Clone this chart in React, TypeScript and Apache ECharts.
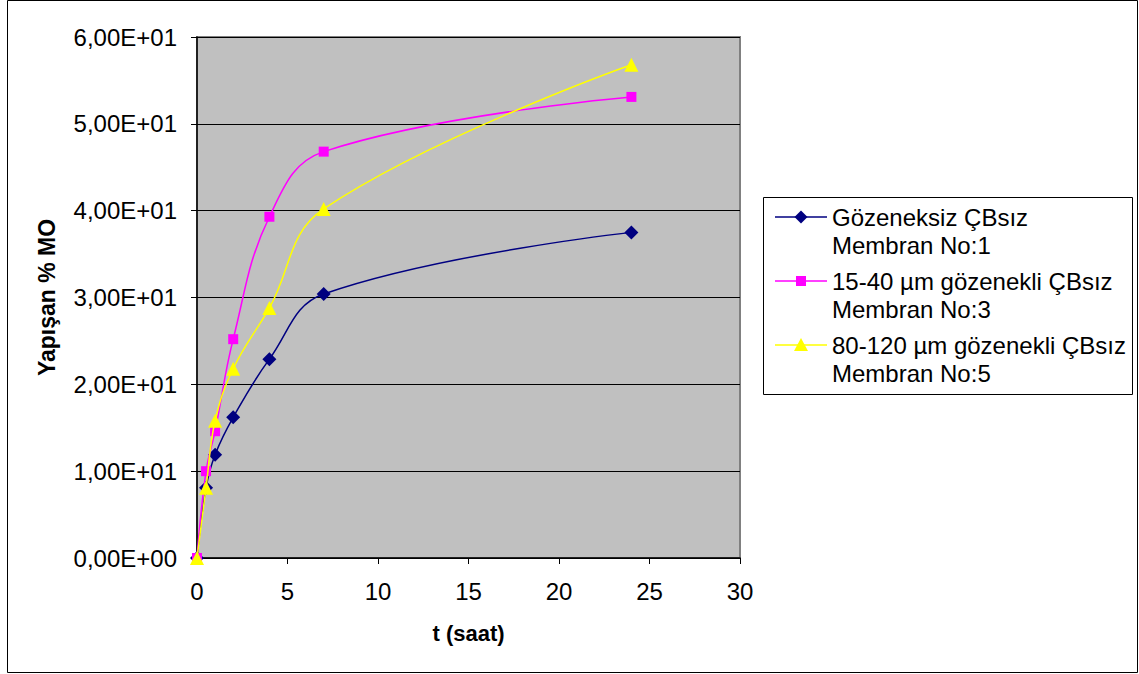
import React, { useEffect, useRef } from "react";
import * as echarts from "echarts";

// Elapsed time in hours
const hours = [0, 0.5, 1, 2, 4, 7, 24];

// Adhered MO (%) per membrane
const membrane1 = [0, 8.1, 11.9, 16.2, 22.9, 30.4, 37.5];
const membrane3 = [0, 10.0, 14.6, 25.2, 39.3, 46.8, 53.1];
const membrane5 = [0, 8.1, 15.8, 21.8, 28.8, 40.2, 56.8];

const seriesNames = [
  ["Gözeneksiz ÇBsız", "Membran No:1"],
  ["15-40 µm gözenekli ÇBsız", "Membran No:3"],
  ["80-120 µm gözenekli ÇBsız", "Membran No:5"],
];
const seriesColors = ["#000080", "#FF00FF", "#FFFF00"];
const seriesSymbols = ["diamond", "rect", "triangle"];
const seriesSymbolSizes = [14, 10, 14];

const xTitle = "t (saat)";
const yTitle = "Yapışan % MO";

const FONT = "'Liberation Sans', Arial, sans-serif";

// Excel-style scientific label with comma decimal: 1,00E+01
function sci(v: number): string {
  if (v === 0) return "0,00E+00";
  const exp = Math.floor(Math.log10(Math.abs(v)));
  const mant = v / Math.pow(10, exp);
  const sign = exp < 0 ? "-" : "+";
  const e = String(Math.abs(exp)).padStart(2, "0");
  return mant.toFixed(2).replace(".", ",") + "E" + sign + e;
}

function legendGraphic() {
  const boxX = 763;
  const boxY = 197;
  const rowY = [217, 281, 345];
  const lineStep = 28;
  const items: any[] = [
    {
      type: "rect",
      shape: { x: boxX + 0.5, y: boxY + 0.5, width: 369, height: 197 },
      style: { fill: "#ffffff", stroke: "#000000", lineWidth: 1 },
    },
  ];
  rowY.forEach((cy, i) => {
    const color = seriesColors[i];
    const cx = 801;
    items.push({
      type: "line",
      shape: { x1: 775, y1: cy, x2: 827, y2: cy },
      style: { stroke: color, lineWidth: 1.5 },
    });
    if (i === 0) {
      items.push({
        type: "polygon",
        shape: { points: [[cx, cy - 6.5], [cx + 6.5, cy], [cx, cy + 6.5], [cx - 6.5, cy]] },
        style: { fill: color },
      });
    } else if (i === 1) {
      items.push({
        type: "rect",
        shape: { x: cx - 5, y: cy - 5, width: 10, height: 10 },
        style: { fill: color },
      });
    } else {
      items.push({
        type: "polygon",
        shape: { points: [[cx, cy - 7], [cx + 7, cy + 6], [cx - 7, cy + 6]] },
        style: { fill: color },
      });
    }
    seriesNames[i].forEach((line, j) => {
      items.push({
        type: "text",
        x: 832,
        y: cy + j * lineStep,
        style: {
          text: line,
          font: `24px ${FONT}`,
          fill: "#000000",
          textVerticalAlign: "middle",
          textAlign: "left",
        },
      });
    });
  });
  return items;
}

export default function App() {
  const ref = useRef<HTMLDivElement>(null);

  useEffect(() => {
    document.body.style.margin = "0";
    if (!ref.current) return;
    const chart = echarts.init(ref.current, undefined, { renderer: "svg" });
    const dataSets = [membrane1, membrane3, membrane5];

    chart.setOption({
      animation: false,
      backgroundColor: "#ffffff",
      grid: {
        left: 197,
        right: 399,
        top: 37,
        bottom: 116,
        show: true,
        backgroundColor: "#C0C0C0",
        borderColor: "#808080",
        borderWidth: 2,
      },
      xAxis: {
        type: "value",
        min: 0,
        max: 30,
        interval: 5,
        name: xTitle,
        nameLocation: "middle",
        nameGap: 64,
        nameTextStyle: { fontFamily: FONT, fontSize: 22, fontWeight: "bold", color: "#000" },
        axisLine: { show: true, onZero: false, lineStyle: { color: "#000", width: 1.5 } },
        axisTick: { show: true, inside: false, length: 6, lineStyle: { color: "#000" } },
        axisLabel: { margin: 21, fontFamily: FONT, fontSize: 24, color: "#000" },
        splitLine: { show: false },
      },
      yAxis: {
        type: "value",
        min: 0,
        max: 60,
        interval: 10,
        name: yTitle,
        nameLocation: "middle",
        nameGap: 139,
        nameTextStyle: { fontFamily: FONT, fontSize: 23, fontWeight: "bold", color: "#000" },
        axisLine: { show: true, onZero: false, lineStyle: { color: "#000", width: 1.5 } },
        axisTick: { show: true, inside: false, length: 6, lineStyle: { color: "#000" } },
        axisLabel: {
          margin: 20,
          fontFamily: FONT,
          fontSize: 24,
          color: "#000",
          formatter: (v: number) => sci(v),
        },
        splitLine: { show: true, lineStyle: { color: "#000", width: 1 } },
      },
      legend: { show: false },
      series: dataSets.map((vals, i) => ({
        type: "line",
        name: seriesNames[i].join(" "),
        data: hours.map((h, k) => [h, vals[k]]),
        smooth: 0.4,
        symbol: seriesSymbols[i],
        symbolSize: seriesSymbolSizes[i],
        showAllSymbol: true,
        itemStyle: { color: seriesColors[i] },
        lineStyle: { color: seriesColors[i], width: 1.5 },
        z: 3 + i,
      })),
      graphic: [
        {
          type: "rect",
          shape: { x: 7.5, y: 0.5, width: 1130, height: 672 },
          style: { fill: "none", stroke: "#000000", lineWidth: 1 },
          silent: true,
          z: 100,
        },
        ...legendGraphic(),
      ],
    });

    return () => chart.dispose();
  }, []);

  return (
    <div
      ref={ref}
      style={{ position: "absolute", left: 0, top: 0, width: 1139, height: 674 }}
    />
  );
}
